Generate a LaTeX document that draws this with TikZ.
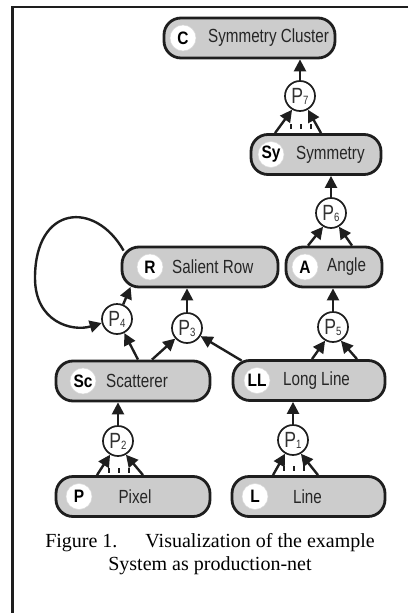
\documentclass[tikz,border=0pt]{standalone}
\usepackage{fontspec}
\setmainfont{Liberation Serif}
\newfontfamily\labfont[FakeStretch=0.8]{Liberation Sans}
\newfontfamily\badgefont[FakeStretch=0.86]{Liberation Sans Bold}
\usetikzlibrary{arrows.meta}
\definecolor{boxgray}{RGB}{204,204,204}
\definecolor{ink}{RGB}{30,30,30}
\definecolor{ptext}{RGB}{50,50,50}
\newcommand\plabel[1]{{\fontsize{22}{22}\selectfont P}{\fontsize{12}{12}\selectfont\raisebox{-1pt}{#1}}}
\tikzset{
  box/.style={draw=ink, line width=2.8pt, fill=boxgray, rounded corners=17pt, minimum height=40pt, inner sep=0pt},
  badge/.style={circle, fill=white, draw=black!15, line width=0.5pt, minimum size=26pt, inner sep=0pt, font=\badgefont\fontsize{18}{18}\selectfont, text=black},
  lab/.style={anchor=west, inner sep=0pt, font=\labfont\fontsize{19}{19}\selectfont, text=black!85},
  clab/.style={inner sep=0pt, font=\labfont\fontsize{19}{19}\selectfont, text=black!85},
  place/.style={circle, draw=ink, line width=1.7pt, fill=white, minimum size=30pt, inner sep=0pt, font=\labfont, text=ptext},
  arr/.style={draw=ink, line width=2.4pt, -{Triangle[length=12pt,width=12pt]}},
  dotmark/.style={rectangle, fill=ink, minimum width=2.4pt, minimum height=5pt, inner sep=0pt},
}
\begin{document}
\begin{tikzpicture}[x=1pt,y=-1pt]
\useasboundingbox (0,0) rectangle (408,613);
\draw[line width=2.2pt, ink] (408,7) -- (12.5,7) -- (12.5,613);

% boxes
\node[box, minimum width=171pt] (C) at (249.5,38) {};
\node[badge] (Cb) at (183,38) {C};
\node[lab] (Ct) at (208,38) {Symmetry Cluster};

\node[box, minimum width=130pt] (Sy) at (316,154.5) {};
\node[badge] (Syb) at (271,154.5) {Sy};
\node[lab] (Syt) at (296,154.5) {Symmetry};

\node[box, minimum width=156pt] (R) at (200,267) {};
\node[badge] (Rb) at (150,267) {R};
\node[lab] (Rt) at (172,267) {Salient Row};

\node[box, minimum width=96pt] (A) at (334,267) {};
\node[badge] (Ab) at (305,267) {A};
\node[lab] (At) at (327,267) {Angle};

\node[box, minimum width=154pt] (Sc) at (133,381) {};
\node[badge] (Scb) at (83,381) {Sc};
\node[lab] (Sct) at (106,381) {Scatterer};

\node[box, minimum width=152pt] (LL) at (309,380.5) {};
\node[badge] (LLb) at (257,380.5) {LL};
\node[lab] (LLt) at (283,380.5) {Long Line};

\node[box, minimum width=154pt] (P) at (133,496.5) {};
\node[badge] (Pb) at (79,496.5) {P};
\node[clab] (Pt) at (135,496.5) {Pixel};

\node[box, minimum width=153pt] (L) at (308.5,496.5) {};
\node[badge] (Lb) at (255,496.5) {L};
\node[clab] (Lt) at (307.5,496.5) {Line};

% places
\node[place] (P7) at (300,96) {\plabel{7}};
\node[place] (P6) at (331,213) {\plabel{6}};
\node[place] (P5) at (333,327) {\plabel{5}};
\node[place] (P4) at (117,319) {\plabel{4}};
\node[place] (P3) at (187,328) {\plabel{3}};
\node[place] (P2) at (118,441) {\plabel{2}};
\node[place] (P1) at (293,440) {\plabel{1}};

% arrows into places
\draw[arr] ([xshift=-36pt]P.north) -- (P2.240);
\draw[arr] ([xshift=10pt]P.north) -- (P2.300);
\draw[arr] ([xshift=-35.5pt]L.north) -- (P1.240);
\draw[arr] ([xshift=9.5pt]L.north) -- (P1.300);
\draw[arr] ([xshift=3pt]LL.north) -- (P5.240);
\draw[arr] ([xshift=48pt]LL.north) -- (P5.300);
\draw[arr] ([xshift=-26pt]A.north) -- (P6.240);
\draw[arr] ([xshift=18pt]A.north) -- (P6.300);
\draw[arr] ([xshift=-41pt]Sy.north) -- (P7.240);
\draw[arr] ([xshift=5pt]Sy.north) -- (P7.300);
\draw[arr] ([xshift=5pt]Sc.north) -- (P4);
\draw[arr] ([xshift=19pt]Sc.north) -- (P3);
\draw[arr] ([xshift=10pt,yshift=-1.5pt]LL.north west) -- (P3);

% arrows out of places
\draw[arr] (P2) -- (P2 |- Sc.south);
\draw[arr] (P1) -- (P1 |- LL.south);
\draw[arr] (P5) -- (P5 |- A.south);
\draw[arr] (P6) -- (P6 |- Sy.south);
\draw[arr] (P7) -- (P7 |- C.south);
\draw[arr] (P3) -- (P3 |- R.south);
\draw[arr] (P4) -- ([xshift=10pt,yshift=1.5pt]R.south west);

% self loop
\coordinate (loopL) at (35,278);
\draw[arr] ([xshift=3pt,yshift=-5pt]R.north west) .. controls (95,200) and (35,205) .. (loopL) .. controls (35,322) and (72,332) .. (P4.195);

% dots
\foreach \i/\dx in {1/-9,2/1,3/11}{
  \node[dotmark] (dA\i) at ([xshift=\dx pt,yshift=-29pt]P2.center) {};
  \node[dotmark] (dB\i) at ([xshift=\dx pt,yshift=-28pt]P1.center) {};
  \node[dotmark] (dC\i) at ([xshift=\dx pt,yshift=-30pt]P7.center) {};
}

% caption
\node[align=center, inner sep=0pt, font=\fontsize{20}{22.5}\selectfont] (cap) at (210,554) {Figure 1.\hspace{1.4em}Visualization of the example\\System as production-net};
\end{tikzpicture}
\end{document}
